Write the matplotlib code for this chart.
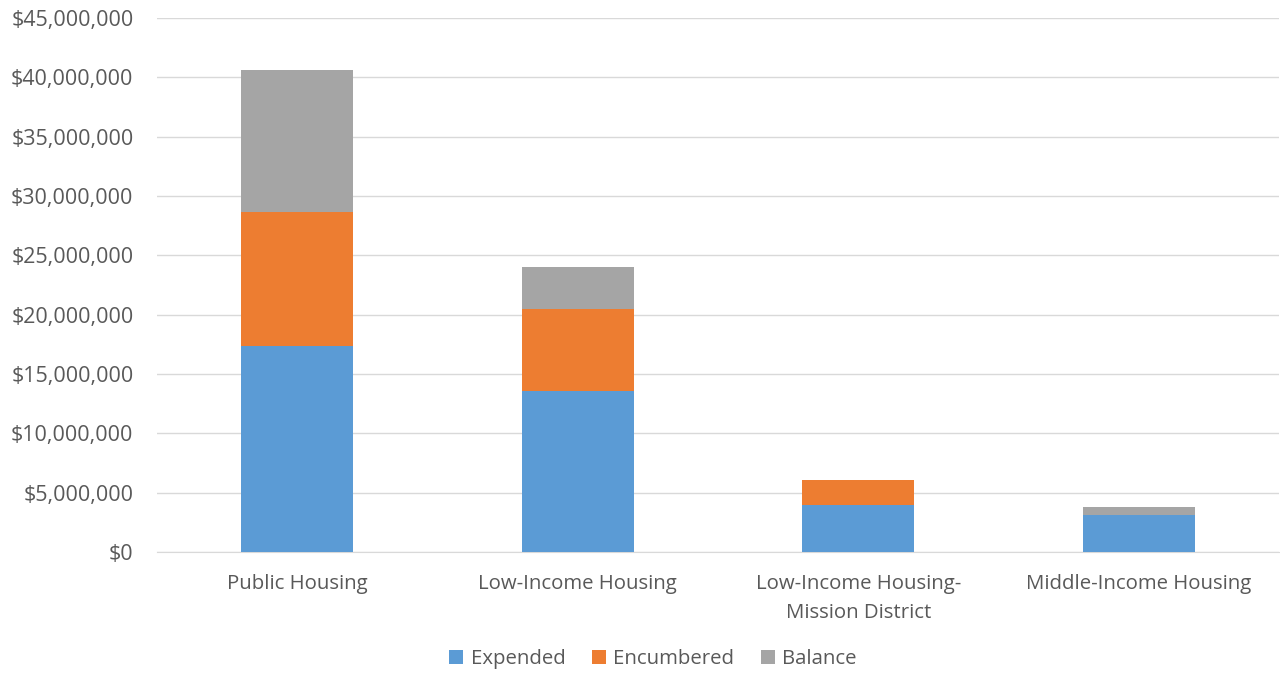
import matplotlib
matplotlib.use("Agg")
import matplotlib.pyplot as plt
import numpy as np
from matplotlib.ticker import FuncFormatter

categories = ["Public Housing", "Low-Income Housing", "Low-Income Housing-\nMission District", "Middle-Income Housing"]
expended = [17.40e6, 13.60e6, 3.93e6, 3.09e6]
encumbered = [11.28e6, 6.90e6, 2.11e6, 0.0]
balance = [11.92e6, 3.49e6, 0.0, 0.73e6]

colors = ["#5B9BD5", "#ED7D31", "#A5A5A5"]
text_color = "#595959"

plt.rcParams['font.family'] = ['Open Sans', 'DejaVu Sans']

fig = plt.figure(figsize=(12.8, 6.75), dpi=100)
ax = fig.add_axes([157/1280, 1-552/675, 1122/1280, 534/675])

x = np.arange(len(categories))
w = 0.40
b1 = np.array(expended)
b2 = b1 + np.array(encumbered)
ax.bar(x, expended, w, color=colors[0], label="Expended", zorder=3)
ax.bar(x, encumbered, w, bottom=b1, color=colors[1], label="Encumbered", zorder=3)
ax.bar(x, balance, w, bottom=b2, color=colors[2], label="Balance", zorder=3)

ax.set_xlim(-0.5, len(categories) - 0.5)
ax.set_ylim(0, 45e6)
ax.set_yticks(np.arange(0, 45e6 + 1, 5e6))
ax.yaxis.set_major_formatter(FuncFormatter(lambda v, p: "${:,.0f}".format(v)))
ax.set_xticks(x)
ax.set_xticklabels(categories, fontsize=14.7, linespacing=1.6)
ax.tick_params(axis='both', length=0, labelcolor=text_color)
ax.tick_params(axis='y', labelsize=15.5, pad=17)
ax.tick_params(axis='x', pad=16)
ax.grid(axis='y', color="#D9D9D9", linewidth=1, zorder=0)
for s in ["top", "right", "left"]:
    ax.spines[s].set_visible(False)
ax.spines["bottom"].set_color("#D9D9D9")

leg = fig.legend(loc="center", bbox_to_anchor=(653/1280, 1-659/675), ncol=3, frameon=False,
                 fontsize=14.7, handlelength=0.7, handleheight=0.7, columnspacing=1.3, handletextpad=0.35)
for t in leg.get_texts():
    t.set_color(text_color)

fig.savefig("out.png", dpi=100)
